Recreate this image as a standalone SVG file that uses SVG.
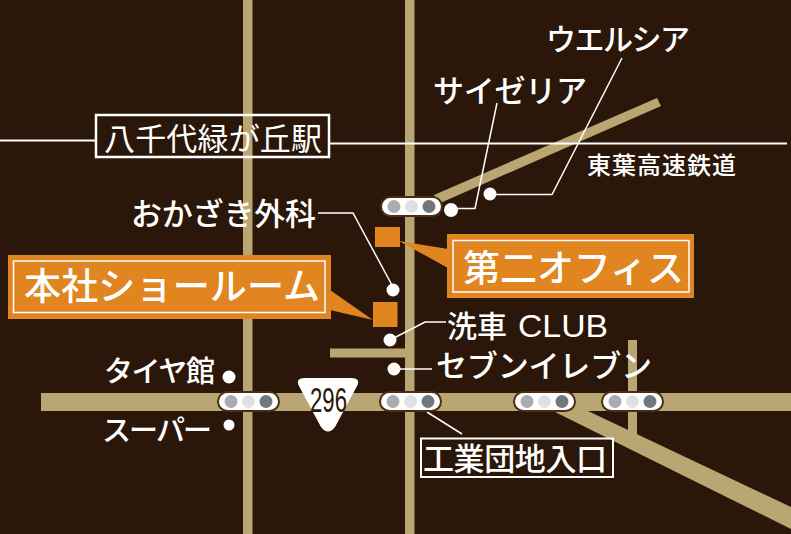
<svg xmlns="http://www.w3.org/2000/svg" width="791" height="534" viewBox="0 0 791 534">
<style>
.t{font-family:"Noto Sans CJK JP","Noto Sans",sans-serif;fill:#fff;font-weight:500}
.s{font-weight:400}
.r{fill:#b9a672}
.l{fill:none;stroke:#fff;stroke-width:1.5}
.w{stroke-width:2}
.d{fill:#fff}
.o{fill:#e08520}
.tl{fill:#fff;stroke:#4a2d12;stroke-width:2}
</style>
<defs>
<g id="sig"><rect class="tl" x="0" y="0" width="61" height="19" rx="9.5"/><circle cx="13" cy="9.5" r="6.5" fill="#a9adb2"/><circle cx="30.500" cy="9.5" r="6.5" fill="#dfe0e4"/><circle cx="48" cy="9.5" r="6.5" fill="#71777a"/></g>
</defs>
<rect width="791" height="534" fill="#2a1709"/>
<g id="roads">
<rect class="r" x="243" y="0" width="9.500" height="534"/>
<rect class="r" x="405" y="0" width="9.500" height="534"/>
<rect class="r" x="41" y="393" width="750" height="18"/>
<rect class="r" x="330" y="348.500" width="76" height="9"/>
<rect class="r" x="628" y="340" width="9" height="97"/>
<polygon class="r" points="434,195 657,98 661,106 438,204"/>
<polygon class="r" points="553,411 588,411 791,507 791,529"/>
</g>
<g id="connectors">
<path class="l w" d="M0 140.500H96"/>
<path class="l w" d="M330 143.500H787"/>
<path class="l" d="M451 208.500H475L497 103"/>
<path class="l" d="M490 194.500H552L622 58"/>
<path class="l" d="M318 213H353L393 287"/>
<path class="l" d="M390 340L425 322H446"/>
<path class="l" d="M394 369H432"/>
<path class="l" d="M427 412L462 434"/>
<polygon class="o" points="399,241 448,249 448,268"/>
<polygon class="o" points="330,290 373,320 330,310"/>
</g>
<g id="signals">
<use href="#sig" x="218" y="392"/>
<use href="#sig" x="380" y="392"/>
<use href="#sig" x="514" y="392"/>
<use href="#sig" x="602" y="392"/>
<use href="#sig" x="381" y="197"/>
</g>
<g id="dots">
<circle class="d" cx="451" cy="210" r="7"/>
<circle class="d" cx="490" cy="194" r="6.500"/>
<circle class="d" cx="393" cy="290" r="6.500"/>
<circle class="d" cx="390" cy="340" r="6.500"/>
<circle class="d" cx="394" cy="369" r="6.500"/>
<circle class="d" cx="229" cy="377" r="6.500"/>
<circle class="d" cx="229" cy="425" r="5.500"/>
</g>
<g id="route296">
<path d="M305 378H351Q361 378 357 386L335 427Q328 436 321 427L299 386Q295 378 305 378Z" fill="#fff"/>
<text x="310" y="412" font-family="'Liberation Sans',sans-serif" font-size="35" fill="#2a1709" textLength="37" lengthAdjust="spacingAndGlyphs">296</text>
</g>
<g id="station">
<rect x="96" y="115" width="233" height="42" fill="none" stroke="#fff" stroke-width="2.500"/>
<text class="t s" x="104" y="150" font-size="31" textLength="218">八千代緑が丘駅</text>
</g>
<g id="office2">
<rect class="o" x="375" y="227" width="25" height="20"/>
<rect class="o" x="447" y="234" width="247" height="64"/>
<rect x="453" y="240.500" width="236" height="51.500" fill="none" stroke="#fff" stroke-width="1.500"/>
<text class="t" x="463" y="282" font-size="37" textLength="221">第二オフィス</text>
</g>
<g id="honsha">
<rect class="o" x="373" y="302" width="24.500" height="25"/>
<rect class="o" x="8" y="255" width="323" height="64"/>
<rect x="13.500" y="261" width="311.500" height="51.500" fill="none" stroke="#fff" stroke-width="1.500"/>
<text class="t" x="24" y="300" font-size="37" textLength="296">本社ショールーム</text>
</g>
<g id="kogyo">
<rect x="421" y="438.500" width="192" height="38.500" fill="none" stroke="#fff" stroke-width="2"/>
<text class="t" x="423" y="470" font-size="31" textLength="184">工業団地入口</text>
</g>
<g id="labels">
<text class="t" x="546" y="50" font-size="30" textLength="144">ウエルシア</text>
<text class="t" x="433" y="102" font-size="31" textLength="154">サイゼリア</text>
<text class="t" x="587" y="174" font-size="24" textLength="149">東葉高速鉄道</text>
<text class="t" x="131" y="225" font-size="31" textLength="185">おかざき外科</text>
<text class="t" x="447" y="337" font-size="30">洗車 <tspan x="518" font-family="'Liberation Sans',sans-serif" font-size="32" font-weight="400" textLength="90" lengthAdjust="spacingAndGlyphs">CLUB</tspan></text>
<text class="t" x="436" y="377" font-size="31" textLength="216">セブンイレブン</text>
<text class="t" x="104" y="382" font-size="29" textLength="111">タイヤ館</text>
<text class="t" x="102" y="441" font-size="29" textLength="110">スーパー</text>
</g>
</svg>
